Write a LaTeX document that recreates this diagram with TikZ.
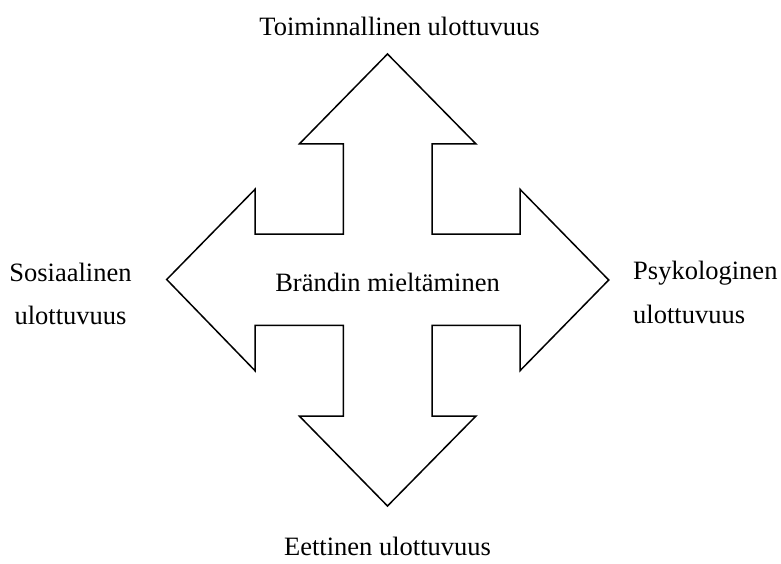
\documentclass[tikz,border=0pt]{standalone}
\usepackage{fontspec}
\setmainfont{Liberation Serif}
\begin{document}
\begin{tikzpicture}[x=1pt,y=-1pt,
  lbl/.style={inner sep=0pt,font=\fontsize{26.5}{30}\selectfont},
  shapeline/.style={draw=black,line width=1.5pt,line join=miter}]
\useasboundingbox (0,0) rectangle (781,564);
\draw[shapeline] (387.5,54) -- (476,144) -- (432,144) -- (432,234) -- (520,234) -- (520,189.3)
  -- (608.7,280) -- (520,370.7) -- (520,325.3) -- (432,325.3) -- (432,416) -- (476,416)
  -- (387.5,506) -- (299.3,416) -- (343.3,416) -- (343.3,325.3) -- (255,325.3) -- (255,370.7)
  -- (166.7,279.5) -- (255,189.3) -- (255,234) -- (343.3,234) -- (343.3,144) -- (299.3,144) -- cycle;
\node[lbl,anchor=base] (top) at (399.5,36) {Toiminnallinen ulottuvuus};
\node[lbl,anchor=base] (mid) at (387.5,291.5) {Brändin mieltäminen};
\node[lbl,anchor=base] (bot) at (387.5,555) {Eettinen ulottuvuus};
\node[lbl,anchor=base] (left1) at (70.5,281) {Sosiaalinen};
\node[lbl,anchor=base] (left2) at (70.5,324) {ulottuvuus};
\node[lbl,anchor=base west] (right1) at (633,279.5) {Psykologinen};
\node[lbl,anchor=base west] (right2) at (633,323) {ulottuvuus};
\end{tikzpicture}
\end{document}
